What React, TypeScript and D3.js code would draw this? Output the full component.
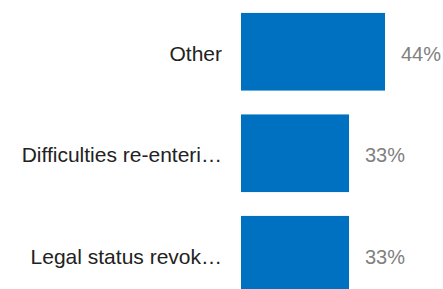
import React from 'react';
import * as d3 from 'd3';

const categories = ['Other', 'Difficulties re-enteri…', 'Legal status revok…'];
const values = [0.44, 0.33, 0.33];
const valueLabels = ['44%', '33%', '33%'];

const width = 443;
const height = 289;

const App = () => {
  const y = d3.scaleBand()
    .domain(categories)
    .range([1, 305.5])
    .paddingInner(0.235)
    .paddingOuter(0.1175);

  const x = d3.scaleLinear()
    .domain([0, 0.44])
    .range([241, 385]);

  return (
    <svg
      width={width}
      height={height}
      style={{ position: 'absolute', left: 0, top: 0, fontFamily: '"Liberation Sans", Arial, sans-serif' }}
    >
      {categories.map((c, i) => {
        const top = y(c) ?? 0;
        const mid = top + y.bandwidth() / 2;
        return (
          <g key={c}>
            <rect x={x(0)} y={top} width={x(values[i]) - x(0)} height={y.bandwidth()} fill="#0070c0" />
            <text x={222} y={mid + 9} textAnchor="end" fontSize={21} fill="#222">{c}</text>
            <text x={x(values[i]) + 16} y={mid + 9} fontSize={20} fill="#808080">{valueLabels[i]}</text>
          </g>
        );
      })}
    </svg>
  );
};

export default App;
